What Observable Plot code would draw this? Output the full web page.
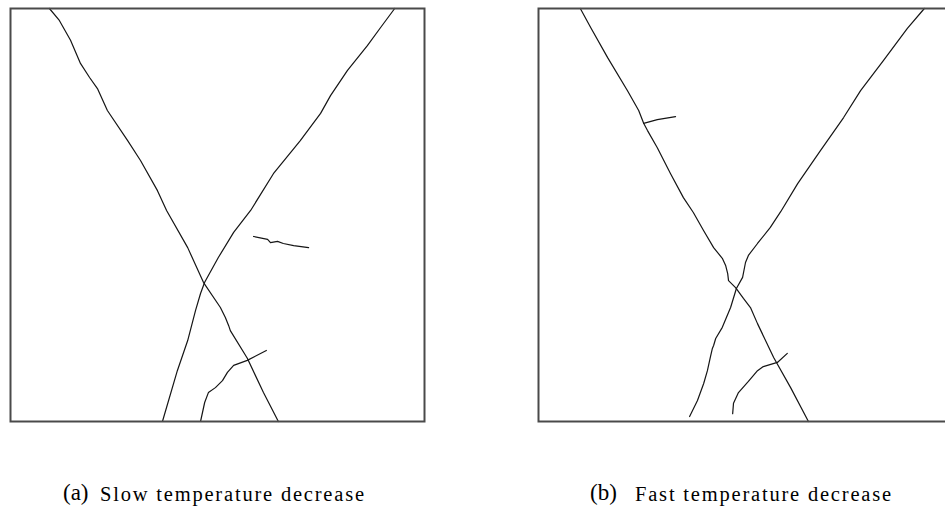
<!DOCTYPE html>
<html>
<head>
<meta charset="utf-8">
<script src="https://cdn.jsdelivr.net/npm/d3@7"></script>
<script src="https://cdn.jsdelivr.net/npm/@observablehq/plot@0.6"></script>
<style>
  html, body { margin: 0; padding: 0; background: #fff; }
  body { width: 945px; height: 510px; overflow: hidden; position: relative; }
  .panel { position: absolute; top: 0; width: 434px; height: 430px; }
  .panel svg { max-width: none !important; width: 434px; height: 430px; }
  .cap { position: absolute; top: 476px; white-space: nowrap; font-family: "Liberation Serif", serif; color: #000; line-height: 1; }
  .cap .lbl { position: absolute; font-size: 23px; top: 5px; }
  .cap .txt { position: absolute; font-size: 20.5px; letter-spacing: 1.8px; top: 8px; }
</style>
</head>
<body>
<div id="pa" class="panel" style="left:0px"></div>
<div id="pb" class="panel" style="left:528px"></div>
<div class="cap" style="left:63px"><span class="lbl" style="left:0">(a)</span><span class="txt" style="left:37px">Slow temperature decrease</span></div>
<div class="cap" style="left:590px"><span class="lbl" style="left:0">(b)</span><span class="txt" style="left:45px">Fast temperature decrease</span></div>
<script>
// Panel labels / captions
const panelLabels = ["(a)", "(b)"];
const panelTitles = ["Slow temperature decrease", "Fast temperature decrease"];

// Crack paths, [x, y] in specimen units (0–100, y from top)
const slowCrack1 = [[9.4,0],[11.8,2.9],[14.5,7.7],[16.9,13.3],[19.1,16.7],[21.0,19.4],[23.4,24.7],[28.3,32.0],[31.4,36.8],[35.5,44.1],[37.7,48.9],[42.8,57.9],[46.6,66.3],[50.7,72.4],[51.9,74.8],[52.7,76.8],[53.1,78.0],[57.2,84.7],[61.1,93.0],[64.7,100]];
const slowCrack2 = [[92.8,0],[89.4,4.6],[86.2,9.0],[81.4,15.0],[77.3,21.1],[74.9,25.4],[70.0,32.0],[63.5,40.0],[58.0,48.9],[53.9,54.2],[50.2,60.3],[46.9,66.3],[45.9,69.0],[44.7,73.1],[42.8,80.4],[40.3,87.7],[36.7,100]];
const slowCrack3 = [[58.7,55.2],[62.1,55.9],[62.8,56.7],[64.5,56.4],[65.9,56.9],[68.4,57.4],[72.0,57.9]];
const slowCrack4 = [[45.9,100],[46.9,95.4],[47.8,93.0],[49.5,91.8],[51.2,90.1],[52.4,88.1],[53.9,86.4],[57.2,85.2],[61.8,82.8]];

const fastCrack1 = [[10.1,0],[12.6,4.6],[16.7,11.9],[21.5,19.9],[24.2,24.7],[25.4,27.8],[26.3,29.5],[28.7,33.7],[31.9,40.0],[35.0,45.8],[37.4,49.4],[39.9,53.8],[42.3,57.9],[44.4,60.5],[45.2,62.2],[45.7,64.2],[45.9,65.9],[47.6,67.6],[49.5,70.2],[51.2,72.4],[52.9,76.3],[56.8,84.5],[60.9,91.8],[65.2,100]];
const fastCrack2 = [[93.2,0],[89.1,4.8],[83.3,12.6],[77.8,19.9],[73.7,26.4],[68.1,34.4],[62.6,42.4],[58.5,49.2],[56.0,53.0],[52.9,56.9],[50.7,59.8],[50.0,61.5],[49.3,65.1],[47.8,67.8],[46.4,72.4],[44.4,77.2],[42.8,79.9],[42.3,81.6],[42.0,82.3],[41.5,84.5],[40.8,87.7],[39.9,90.8],[38.4,94.9],[36.5,98.8]];
const fastCrack3 = [[25.4,27.8],[28.7,26.9],[33.1,26.2]];
const fastCrack4 = [[46.9,98.1],[47.1,95.6],[48.3,93.0],[50.7,90.3],[52.9,87.7],[54.3,86.7],[57.7,85.7],[60.1,83.5]];

function rows(cracks) {
  return cracks.flatMap((c, i) => c.map(([x, y]) => ({crack: i, x, y})));
}

function panel(cracks) {
  return Plot.plot({
    width: 434,
    height: 430,
    marginLeft: 10,
    marginTop: 8,
    marginRight: 10,
    marginBottom: 9,
    x: {domain: [0, 100], axis: null},
    y: {domain: [0, 100], reverse: true, axis: null},
    style: {background: "transparent", overflow: "visible", maxWidth: "none"},
    marks: [
      Plot.line(rows(cracks), {x: "x", y: "y", z: "crack", stroke: "#151515", strokeWidth: 1.2, curve: "linear"}),
      Plot.frame({stroke: "#4a4a4a", strokeWidth: 2})
    ]
  });
}

document.getElementById("pa").append(panel([slowCrack1, slowCrack2, slowCrack3, slowCrack4]));
document.getElementById("pb").append(panel([fastCrack1, fastCrack2, fastCrack3, fastCrack4]));
</script>
</body>
</html>
